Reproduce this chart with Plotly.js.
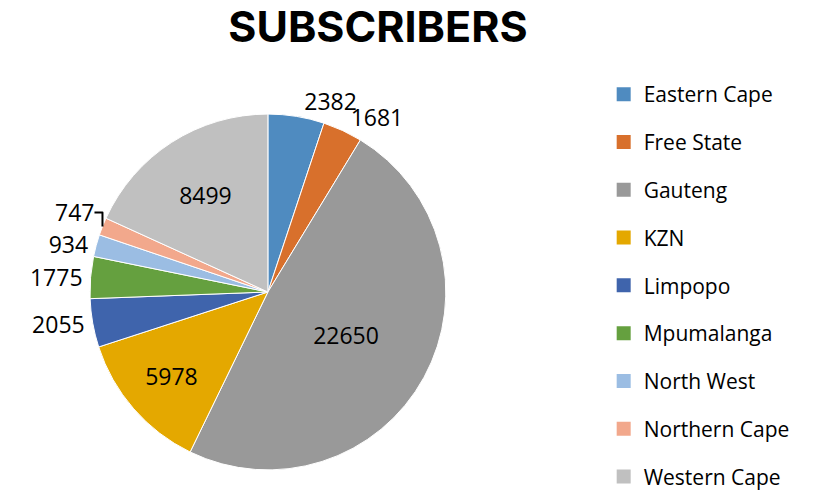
<!DOCTYPE html>
<html><head><meta charset="utf-8">
<script src="https://cdn.plot.ly/plotly-3.0.1.min.js"></script>
<style>html,body{margin:0;padding:0;background:#fff}#c{width:818px;height:497px}</style>
</head><body><div id="c"></div>
<script>
const categories = ["Eastern Cape","Free State","Gauteng","KZN","Limpopo","Mpumalanga","North West","Northern Cape","Western Cape"];
const subscribers = [2382,1681,22650,5978,2055,1775,934,747,8499];
const colors = ["#4f8bc0","#d8702c","#999999","#e4a800","#3f64ac","#65a03f","#9bbde3","#f2a88c","#c0c0c0"];
const textPositions = ["none","outside","inside","inside","outside","outside","outside","outside","inside"];
const overlayTextPositions = ["outside","none","none","none","none","none","none","none","none"];

const labelFont = {family: "'Open Sans', sans-serif", size: 23, color: "#000000"};
const pieDomain = {x: [0.110, 0.545], y: [0.054, 0.771]};

const pie = {
  type: "pie",
  labels: categories,
  values: subscribers,
  sort: false,
  direction: "clockwise",
  rotation: 0,
  marker: {colors: colors, line: {color: "#ffffff", width: 1}},
  texttemplate: "%{value:.0f}",
  textposition: textPositions,
  insidetextorientation: "horizontal",
  textfont: labelFont,
  outsidetextfont: labelFont,
  showlegend: false,
  domain: pieDomain,
  hoverinfo: "label+value"
};

const pieLabels = {
  type: "pie",
  labels: categories,
  values: subscribers,
  sort: false,
  direction: "clockwise",
  rotation: 0,
  marker: {colors: categories.map(() => "rgba(0,0,0,0)"), line: {width: 0}},
  texttemplate: "%{value:.0f}",
  textposition: overlayTextPositions,
  textfont: labelFont,
  outsidetextfont: labelFont,
  showlegend: false,
  domain: pieDomain,
  hoverinfo: "skip"
};

const legendTraces = categories.map((c, i) => ({
  type: "scatter", mode: "markers", x: [null], y: [null],
  name: c, legendgroup: "g" + i,
  marker: {symbol: "square", size: 14, color: colors[i]},
  showlegend: true, hoverinfo: "skip"
}));

const layout = {
  width: 818, height: 497,
  margin: {l: 0, r: 0, t: 0, b: 0},
  paper_bgcolor: "#ffffff", plot_bgcolor: "#ffffff",
  title: {text: "<b>SUBSCRIBERS</b>", x: 0.462, xanchor: "center", y: 0.945, yanchor: "middle",
          font: {family: "Inter, sans-serif", size: 43, color: "#000000"}},
  xaxis: {visible: false, domain: [0.9, 0.91]},
  yaxis: {visible: false, domain: [0.9, 0.91]},
  legend: {x: 0.738, xanchor: "left", y: 0, yanchor: "bottom",
           font: {family: "'Open Sans', sans-serif", size: 21, color: "#000000"},
           tracegroupgap: 17.5, itemclick: false},
  showlegend: true
};

Plotly.newPlot("c", [pie, pieLabels, ...legendTraces], layout, {displayModeBar: false, staticPlot: true});
</script></body></html>
